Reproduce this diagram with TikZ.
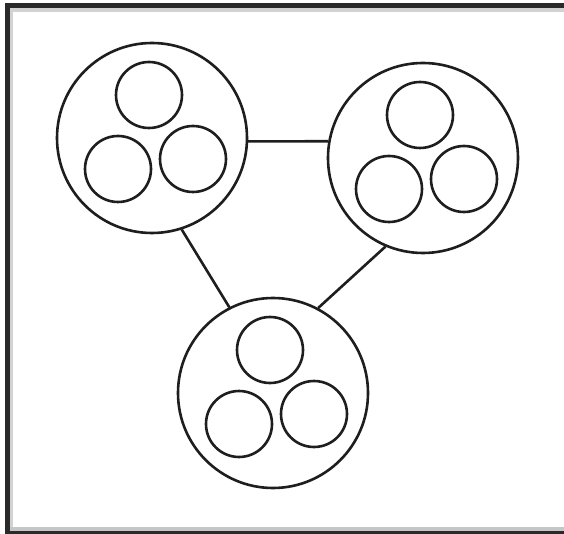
\documentclass[tikz,border=0pt]{standalone}
\definecolor{framedark}{HTML}{2A2A2A}
\definecolor{framegray}{HTML}{D2D2D2}
\definecolor{bottomgray}{HTML}{C6C6C6}
\definecolor{ink}{HTML}{1E1E1E}
\tikzset{
  bigcirc/.style={circle, draw=ink, line width=2.6pt, minimum size=190pt, inner sep=0pt},
  smallcirc/.style={circle, draw=ink, line width=2.6pt, minimum size=66pt, inner sep=0pt},
  link/.style={draw=ink, line width=2.6pt}
}
\begin{document}
\begin{tikzpicture}[x=1pt,y=-1pt]
\useasboundingbox (0,0) rectangle (564,534);
\fill[white] (0,0) rectangle (564,534);
% frame
\fill[framegray] (10,8) rectangle (564,12);
\fill[framegray] (10,12) rectangle (13,527);
\fill[bottomgray] (10,527) rectangle (564,531);
\fill[framedark] (5,3) rectangle (564,8);
\fill[framedark] (5,3) rectangle (10,534);
\fill[framedark] (5,531) rectangle (564,534);
% groups
\foreach \n/\x/\y in {1/152/138, 2/423/158, 3/273/393}{
  \node[bigcirc] (c\n) at (\x,\y) {};
  \node[smallcirc] (c\n t) at (\x-3,\y-43) {};
  \node[smallcirc] (c\n l) at (\x-34,\y+31) {};
  \node[smallcirc] (c\n r) at (\x+41,\y+21) {};
}
\draw[link] (c1.-2.7) -- (c2.170.7);
\draw[link] (c1.-72.5) -- (c3.117.4);
\draw[link] (c2.-113.6) -- (c3.62.9);
\end{tikzpicture}
\end{document}
